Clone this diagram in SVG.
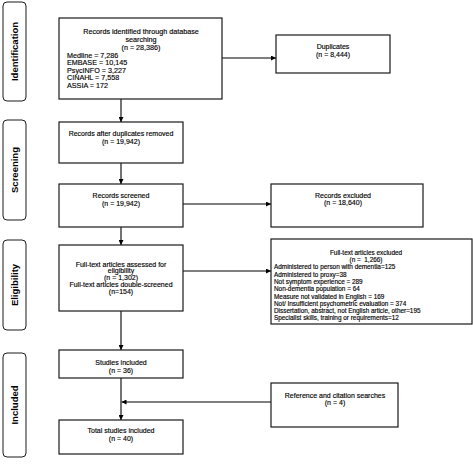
<svg xmlns="http://www.w3.org/2000/svg" width="473" height="464" viewBox="0 0 473 464">
<defs>
<marker id="ah" viewBox="0 0 10 10" refX="10" refY="5" markerWidth="5" markerHeight="5" orient="auto" markerUnits="userSpaceOnUse">
<path d="M0,0 L10,5 L0,10 z" fill="#000"/>
</marker>
<style>
.box{fill:#fff;stroke:#1a1a1a;stroke-width:1.2}
.side{fill:#fff;stroke:#1a1a1a;stroke-width:1}
.t{font-family:"Liberation Sans",Arial,sans-serif;font-size:7px;fill:#000;stroke:#000;stroke-width:0.15;white-space:pre}
.big{font-size:7.2px}
.sm{font-size:6.4px}
.c{text-anchor:middle}
.s{font-family:"Liberation Sans",Arial,sans-serif;font-size:9.5px;font-weight:bold;fill:#000;text-anchor:middle}
.ln{fill:none;stroke:#000;stroke-width:1.1}
</style>
</defs>
<rect width="473" height="464" fill="#fff"/>

<g id="side-identification"><rect class="side" x="3" y="2" width="23" height="99" rx="4"/><text class="s" transform="translate(18,51.5) rotate(-90)">Identification</text></g>
<g id="side-screening"><rect class="side" x="3" y="120" width="23" height="100" rx="4"/><text class="s" transform="translate(18,170) rotate(-90)">Screening</text></g>
<g id="side-eligibility"><rect class="side" x="3" y="240" width="23" height="90" rx="4"/><text class="s" transform="translate(18,285) rotate(-90)">Eligibility</text></g>
<g id="side-included"><rect class="side" x="3" y="353" width="23" height="104" rx="4"/><text class="s" transform="translate(18,405) rotate(-90)">Included</text></g>

<g id="connectors">
<line class="ln" x1="121" y1="99" x2="121" y2="122" marker-end="url(#ah)"/>
<line class="ln" x1="222" y1="58" x2="276" y2="58" marker-end="url(#ah)"/>
<line class="ln" x1="121" y1="163" x2="121" y2="184" marker-end="url(#ah)"/>
<line class="ln" x1="183" y1="204" x2="271" y2="204" marker-end="url(#ah)"/>
<line class="ln" x1="121" y1="227" x2="121" y2="245" marker-end="url(#ah)"/>
<line class="ln" x1="183" y1="271" x2="271" y2="271" marker-end="url(#ah)"/>
<line class="ln" x1="121" y1="311" x2="121" y2="350" marker-end="url(#ah)"/>
<line class="ln" x1="121" y1="378" x2="121" y2="420" marker-end="url(#ah)"/>
<line class="ln" x1="271" y1="402" x2="121.5" y2="402" marker-end="url(#ah)"/>
</g>

<g id="records-identified">
<rect class="box" x="59" y="18" width="163" height="81"/>
<text class="t big c" x="141" y="34.3">Records identified through database</text>
<text class="t big c" x="141" y="42">searching</text>
<text class="t big c" x="141" y="49.5">(n = 28,386)</text>
<text class="t big" x="67" y="57.5">Medline = 7,286</text>
<text class="t big" x="67" y="65">EMBASE = 10,145</text>
<text class="t big" x="67" y="72.5">PsycINFO = 3,227</text>
<text class="t big" x="67" y="80">CINAHL = 7,558</text>
<text class="t big" x="67" y="87.5">ASSIA = 172</text>
</g>

<g id="duplicates">
<rect class="box" x="276" y="35" width="114" height="38"/>
<text class="t c" x="333" y="49">Duplicates</text>
<text class="t c" x="333" y="57.3">(n = 8,444)</text>
</g>

<g id="after-duplicates">
<rect class="box" x="59" y="122" width="124" height="41"/>
<text class="t c" x="121" y="136.3">Records after duplicates removed</text>
<text class="t c" x="121" y="144">(n = 19,942)</text>
</g>

<g id="records-screened">
<rect class="box" x="59" y="184" width="124" height="43"/>
<text class="t c" x="121" y="198">Records screened</text>
<text class="t c" x="121" y="205.6">(n = 19,942)</text>
</g>

<g id="records-excluded">
<rect class="box" x="271" y="184" width="152" height="43"/>
<text class="t c" x="343" y="197.5">Records excluded</text>
<text class="t c" x="343" y="204.6">(n = 18,640)</text>
</g>

<g id="fulltext-assessed">
<rect class="box" x="59" y="245" width="124" height="66"/>
<text class="t c" x="121" y="266.6">Full-text articles assessed for</text>
<text class="t c" x="121" y="273">eligibility</text>
<text class="t c" x="121" y="279.6">(n = 1,302)</text>
<text class="t c" x="121" y="286.6">Full-text articles double-screened</text>
<text class="t c" x="121" y="294">(n=154)</text>
</g>

<g id="fulltext-excluded">
<rect class="box" x="271" y="239" width="201" height="85"/>
<text class="t sm c" x="366" y="254.5">Full-text articles excluded</text>
<text class="t sm c" x="366" y="261.7">(n =  1,266)</text>
<text class="t sm" x="274" y="269">Administered to person with dementia=125</text>
<text class="t sm" x="274" y="276.5">Administered to proxy=38</text>
<text class="t sm" x="274" y="284">Not symptom experience = 289</text>
<text class="t sm" x="274" y="291.3">Non-dementia population = 64</text>
<text class="t sm" x="274" y="298.6">Measure not validated in English = 169</text>
<text class="t sm" x="274" y="305.8">Not/ Insufficient psychometric evaluation = 374</text>
<text class="t sm" x="274" y="313">Dissertation, abstract, not English article, other=195</text>
<text class="t sm" x="274" y="320">Specialist skills, training or requirements=12</text>
</g>

<g id="studies-included">
<rect class="box" x="59" y="350" width="124" height="28"/>
<text class="t c" x="121" y="365">Studies included</text>
<text class="t c" x="121" y="373">(n = 36)</text>
</g>

<g id="reference-searches">
<rect class="box" x="271" y="383" width="127" height="44"/>
<text class="t c" x="335" y="397.5">Reference and citation searches</text>
<text class="t c" x="335" y="404.6">(n = 4)</text>
</g>

<g id="total-included">
<rect class="box" x="59" y="420" width="124" height="34"/>
<text class="t c" x="121" y="433">Total studies included</text>
<text class="t c" x="121" y="441.3">(n = 40)</text>
</g>
</svg>
